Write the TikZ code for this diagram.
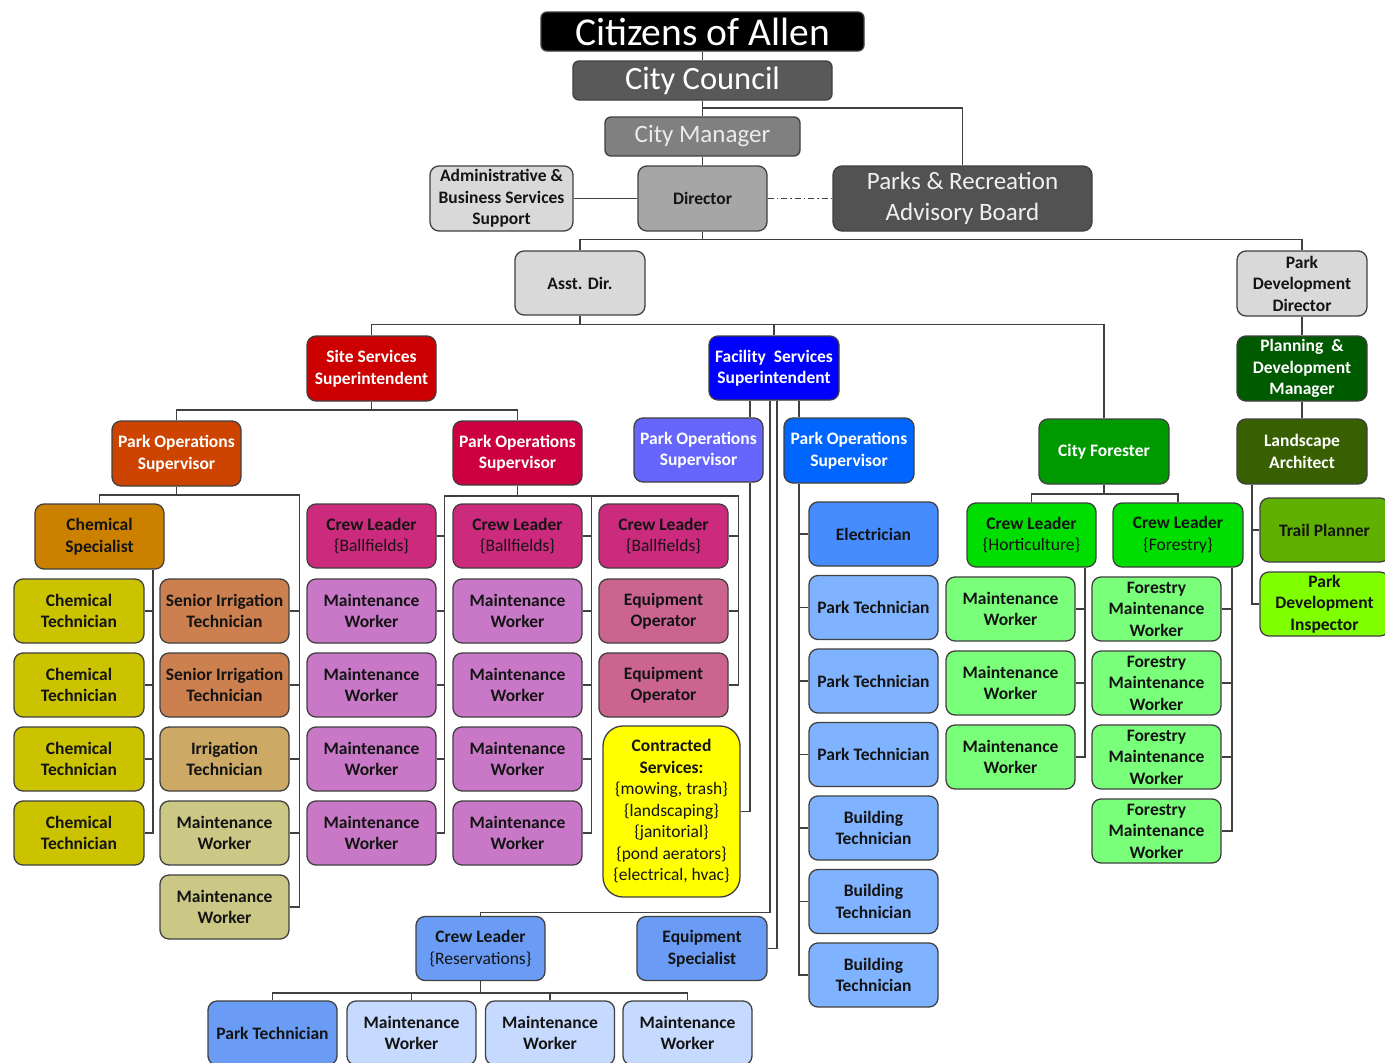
\documentclass[tikz,border=0pt]{standalone}
\usepackage{fontspec}
\setmainfont{Carlito}
\definecolor{lc}{HTML}{404040}
\definecolor{tc}{HTML}{141414}
\definecolor{cCC}{HTML}{595959}
\definecolor{cCM}{HTML}{808080}
\definecolor{cDir}{HTML}{A6A6A6}
\definecolor{cLt}{HTML}{D9D9D9}
\definecolor{cPRA}{HTML}{525252}
\definecolor{cSS}{HTML}{CC0000}
\definecolor{cFS}{HTML}{0000FF}
\definecolor{cPa}{HTML}{CC4400}
\definecolor{cPb}{HTML}{CC0040}
\definecolor{cPc}{HTML}{6666FF}
\definecolor{cPd}{HTML}{0066FF}
\definecolor{cChS}{HTML}{CC8000}
\definecolor{cChT}{HTML}{CBC300}
\definecolor{cSIT}{HTML}{CC8050}
\definecolor{cIT}{HTML}{CCAA66}
\definecolor{cMWk}{HTML}{CBC785}
\definecolor{cCLB}{HTML}{CC2A7C}
\definecolor{cMWo}{HTML}{C978C8}
\definecolor{cEO}{HTML}{CB6590}
\definecolor{cCon}{HTML}{FFFF00}
\definecolor{cEl}{HTML}{468CFF}
\definecolor{cPT}{HTML}{80B3FF}
\definecolor{cCLR}{HTML}{6A9CF5}
\definecolor{cMWb}{HTML}{C6D9FF}
\definecolor{cCF}{HTML}{009900}
\definecolor{cCLG}{HTML}{00DD00}
\definecolor{cMWg}{HTML}{7AFF7A}
\definecolor{cPDM}{HTML}{005A00}
\definecolor{cLA}{HTML}{386000}
\definecolor{cTP}{HTML}{60B000}
\definecolor{cPDI}{HTML}{80FF00}
\begin{document}
\begin{tikzpicture}[x=1pt,y=-1pt,
  bx/.style={draw=lc, line width=1.3pt, rounded corners=9pt, minimum width=129pt,
    minimum height=64pt, align=center, inner sep=1pt, text=tc,
    font=\bfseries\fontsize{17.5}{21.5}\selectfont},
  wt/.style={text=white},
  con/.style={draw=lc, line width=1.2pt},
  big/.style={draw=lc, line width=1.3pt, rounded corners=6pt, align=center, inner sep=1pt}
]
\useasboundingbox (0,0) rectangle (1385,1063);
\fill[white] (0,0) rectangle (1385,1063);

% ---------- top ----------
\node[big, fill=black, text=white, minimum width=323pt, minimum height=39pt,
  font=\fontsize{39.5}{40}\selectfont] (cit) at (702.5,31.5) {Citizens of Allen};
\node[big, fill=cCC, text=white, minimum width=259pt, minimum height=39pt,
  font=\fontsize{32.5}{34}\selectfont] (cc) at (702.5,80.5) {City Council};
\node[big, fill=cCM, text=white!92!black, minimum width=195pt, minimum height=39pt,
  font=\fontsize{25}{28}\selectfont] (cm) at (702.5,136.5) {City Manager};
\node[bx, fill=cDir, minimum height=65pt] (dir) at (702.5,198.5) {Director};
\node[bx, fill=cLt, minimum width=143pt, minimum height=65pt] (adm) at (501.5,198.5) {Administrative \&\\Business Services\\Support};
\node[big, rounded corners=9pt, fill=cPRA, text=white!94!black, minimum width=259pt, minimum height=65pt,
  font=\fontsize{25}{31}\selectfont] (pra) at (962.5,198.5) {Parks \& Recreation\\Advisory Board};
\node[bx, fill=cLt, minimum width=130pt] (ad) at (580,283) {Asst. Dir.};
\node[bx, fill=cLt, minimum width=130pt, minimum height=65pt] (pdd) at (1302,283.5) {Park\\Development\\Director};
\node[bx, fill=cPDM, wt, minimum width=130pt, minimum height=65pt] (pdm) at (1302,368.5) {Planning \ \&\\Development\\Manager};
\node[bx, fill=cLA, wt, minimum width=130pt, minimum height=65pt] (la) at (1302,451.5) {Landscape\\Architect};
\node[bx, fill=cTP] (tp) at (1324.5,530) {Trail Planner};
\node[bx, fill=cPDI] (pdi) at (1324.5,604) {Park\\Development\\Inspector};

% ---------- superintendents ----------
\node[bx, fill=cSS, wt, minimum height=65pt] (ssu) at (371.5,368.5) {Site Services\\Superintendent};
\node[bx, fill=cFS, wt, minimum width=130pt] (fsu) at (774,368) {Facility\ \ Services\\Superintendent};
\node[bx, fill=cCF, wt, minimum width=130pt, minimum height=65pt] (cf) at (1104,451.5) {City Forester};

% ---------- supervisors ----------
\node[bx, fill=cPa, wt, minimum height=65pt] (pos1) at (176.5,453.5) {Park Operations\\Supervisor};
\node[bx, fill=cPb, wt] (pos2) at (517.5,453) {Park Operations\\Supervisor};
\node[bx, fill=cPc, wt] (pos3) at (698.5,450) {Park Operations\\Supervisor};
\node[bx, fill=cPd, wt, minimum width=130pt, minimum height=65pt] (pos4) at (849,450.5) {Park Operations\\Supervisor};

% ---------- chemical / irrigation ----------
\node[bx, fill=cChS, minimum height=65pt] (chs) at (99.5,536.5) {Chemical\\Specialist};
\node[bx, fill=cChT, minimum width=130pt] (ct1) at (79,611) {Chemical\\Technician};
\node[bx, fill=cChT, minimum width=130pt] (ct2) at (79,685) {Chemical\\Technician};
\node[bx, fill=cChT, minimum width=130pt] (ct3) at (79,759) {Chemical\\Technician};
\node[bx, fill=cChT, minimum width=130pt] (ct4) at (79,833) {Chemical\\Technician};
\node[bx, fill=cSIT] (sit1) at (224.5,611) {Senior Irrigation\\Technician};
\node[bx, fill=cSIT] (sit2) at (224.5,685) {Senior Irrigation\\Technician};
\node[bx, fill=cIT] (it) at (224.5,759) {Irrigation\\Technician};
\node[bx, fill=cMWk] (mwk1) at (224.5,833) {Maintenance\\Worker};
\node[bx, fill=cMWk] (mwk2) at (224.5,907) {Maintenance\\Worker};

% ---------- ballfields ----------
\node[bx, fill=cCLB] (clb1) at (371.5,536) {Crew Leader\\{\mdseries\{Ballfields\}}};
\node[bx, fill=cMWo] (mwa1) at (371.5,611) {Maintenance\\Worker};
\node[bx, fill=cMWo] (mwa2) at (371.5,685) {Maintenance\\Worker};
\node[bx, fill=cMWo] (mwa3) at (371.5,759) {Maintenance\\Worker};
\node[bx, fill=cMWo] (mwa4) at (371.5,833) {Maintenance\\Worker};
\node[bx, fill=cCLB] (clb2) at (517.5,536) {Crew Leader\\{\mdseries\{Ballfields\}}};
\node[bx, fill=cMWo] (mwb1) at (517.5,611) {Maintenance\\Worker};
\node[bx, fill=cMWo] (mwb2) at (517.5,685) {Maintenance\\Worker};
\node[bx, fill=cMWo] (mwb3) at (517.5,759) {Maintenance\\Worker};
\node[bx, fill=cMWo] (mwb4) at (517.5,833) {Maintenance\\Worker};
\node[bx, fill=cCLB] (clb3) at (663.5,536) {Crew Leader\\{\mdseries\{Ballfields\}}};
\node[bx, fill=cEO] (eo1) at (663.5,611) {Equipment\\Operator};
\node[bx, fill=cEO] (eo2) at (663.5,685) {Equipment\\Operator};
\node[bx, fill=cCon, minimum width=137pt, minimum height=171pt, rounded corners=20pt] (con) at (671.5,811.5)
  {Contracted\\Services:\\{\mdseries\{mowing, trash\}}\\{\mdseries\{landscaping\}}\\{\mdseries\{janitorial\}}\\{\mdseries\{pond aerators\}}\\{\mdseries\{electrical, hvac\}}};

% ---------- facility column ----------
\node[bx, fill=cEl] (el) at (873.5,534) {Electrician};
\node[bx, fill=cPT] (pt1) at (873.5,607.5) {Park Technician};
\node[bx, fill=cPT] (pt2) at (873.5,681) {Park Technician};
\node[bx, fill=cPT] (pt3) at (873.5,754.5) {Park Technician};
\node[bx, fill=cPT] (bt1) at (873.5,828) {Building\\Technician};
\node[bx, fill=cPT] (bt2) at (873.5,901.5) {Building\\Technician};
\node[bx, fill=cPT] (bt3) at (873.5,975) {Building\\Technician};

% ---------- reservations ----------
\node[bx, fill=cCLR] (clr) at (480.5,948.5) {Crew Leader\\{\mdseries\{Reservations\}}};
\node[bx, fill=cCLR, minimum width=130pt] (eqs) at (702,948.5) {Equipment\\Specialist};
\node[bx, fill=cCLR] (ptb) at (272.5,1033) {Park Technician};
\node[bx, fill=cMWb] (mwc1) at (411.5,1033) {Maintenance\\Worker};
\node[bx, fill=cMWb] (mwc2) at (550,1033) {Maintenance\\Worker};
\node[bx, fill=cMWb] (mwc3) at (687.5,1033) {Maintenance\\Worker};

% ---------- forestry ----------
\node[bx, fill=cCLG] (clh) at (1031.5,535) {Crew Leader\\{\mdseries\{Horticulture\}}};
\node[bx, fill=cCLG, minimum width=130pt] (clf) at (1178,535) {Crew Leader\\{\mdseries\{Forestry\}}};
\node[bx, fill=cMWg] (mwg1) at (1010.5,609) {Maintenance\\Worker};
\node[bx, fill=cMWg] (mwg2) at (1010.5,683) {Maintenance\\Worker};
\node[bx, fill=cMWg] (mwg3) at (1010.5,757) {Maintenance\\Worker};
\node[bx, fill=cMWg] (fmw1) at (1156.5,609) {Forestry\\Maintenance\\Worker};
\node[bx, fill=cMWg] (fmw2) at (1156.5,683) {Forestry\\Maintenance\\Worker};
\node[bx, fill=cMWg] (fmw3) at (1156.5,757) {Forestry\\Maintenance\\Worker};
\node[bx, fill=cMWg] (fmw4) at (1156.5,831) {Forestry\\Maintenance\\Worker};

% ---------- connectors ----------
\draw[con] (cit.south) -- (cc.north);
\draw[con] (cc.south) -- (cm.north);
\coordinate (jc) at (702.5,108);
\draw[con] (jc) -| (pra.north);
\draw[con] (cm.south) -- (dir.north);
\draw[con] (adm.east) -- (dir.west);
\draw[con, dash pattern=on 6pt off 3pt on 1.5pt off 3pt] (dir.east) -- (pra.west);
\coordinate (jd) at (702.5,239.5);
\draw[con] (dir.south) -- (jd);
\draw[con] (ad.north) |- (jd);
\draw[con] (pdd.north) |- (jd);
\draw[con] (pdd.south) -- (pdm.north);
\draw[con] (pdm.south) -- (la.north);
\draw[con] ([xshift=-50pt]la.south) |- (tp.west);
\draw[con] ([xshift=-50pt]la.south) |- (pdi.west);

\coordinate (ja) at (580,324.5);
\draw[con] (ad.south) -- (ja);
\draw[con] (ssu.north) |- (ja);
\draw[con] (cf.north) |- (ja);
\draw[con] (fsu.north) -- (fsu.north |- ja);

\coordinate (js) at (371.5,410);
\draw[con] (ssu.south) -- (js);
\draw[con] (pos1.north) |- (js);
\draw[con] (pos2.north) |- (js);

% orange supervisor
\coordinate (jp1) at (176.5,495);
\draw[con] (pos1.south) -- (jp1);
\draw[con] (chs.north) |- (jp1);
\draw[con] (mwk2.east) -- ++(10,0) |- (jp1);
\foreach \n in {sit1,sit2,it,mwk1} \draw[con] (\n.east) -- ++(10,0);
\draw[con] ([xshift=53.5pt]chs.south) |- (ct4.east);
\foreach \n in {ct1,ct2,ct3} \draw[con] (\n.east) -- ++(9,0);

% crimson supervisor
\coordinate (jp2) at (517.5,496);
\draw[con] (pos2.south) -- (jp2);
\draw[con] (mwa4.east) -- ++(8,0) |- (jp2);
\draw[con] (mwb4.east) -- ++(9,0) |- (jp2);
\draw[con] (eo2.east) -- ++(10,0) |- (jp2);
\foreach \n in {clb1,mwa1,mwa2,mwa3} \draw[con] (\n.east) -- ++(8,0);
\foreach \n in {clb2,mwb1,mwb2,mwb3} \draw[con] (\n.east) -- ++(9,0);
\foreach \n in {clb3,eo1} \draw[con] (\n.east) -- ++(10,0);

% facility superintendent
\draw[con] ([xshift=-24pt]fsu.south) -- ([xshift=51.5pt]pos3.north);
\draw[con] ([xshift=51.5pt]pos3.south) |- (con.east);
\coordinate (jr) at (770,912.5);
\draw[con] ([xshift=-4pt]fsu.south) -- (jr) -| (clr.north);
\draw[con] ([xshift=3pt]fsu.south) |- (eqs.east);
\draw[con] ([xshift=25pt]fsu.south) -- ([xshift=-50pt]pos4.north);
\draw[con] ([xshift=-50pt]pos4.south) |- (bt3.west);
\foreach \n in {el,pt1,pt2,pt3,bt1,bt2} \draw[con] (\n.west) -- ++(-10,0);

% reservations
\coordinate (jb) at (480.5,993);
\draw[con] (clr.south) -- (jb);
\foreach \n in {ptb,mwc1,mwc2,mwc3} \draw[con] (\n.north) |- (jb);

% city forester
\coordinate (jf) at (1104,494);
\draw[con] (cf.south) -- (jf);
\draw[con] (clh.north) |- (jf);
\draw[con] (clf.north) |- (jf);
\draw[con] ([xshift=53.5pt]clh.south) |- (mwg3.east);
\foreach \n in {mwg1,mwg2} \draw[con] (\n.east) -- ++(10,0);
\draw[con] ([xshift=54pt]clf.south) |- (fmw4.east);
\foreach \n in {fmw1,fmw2,fmw3} \draw[con] (\n.east) -- ++(11,0);
\end{tikzpicture}
\end{document}
